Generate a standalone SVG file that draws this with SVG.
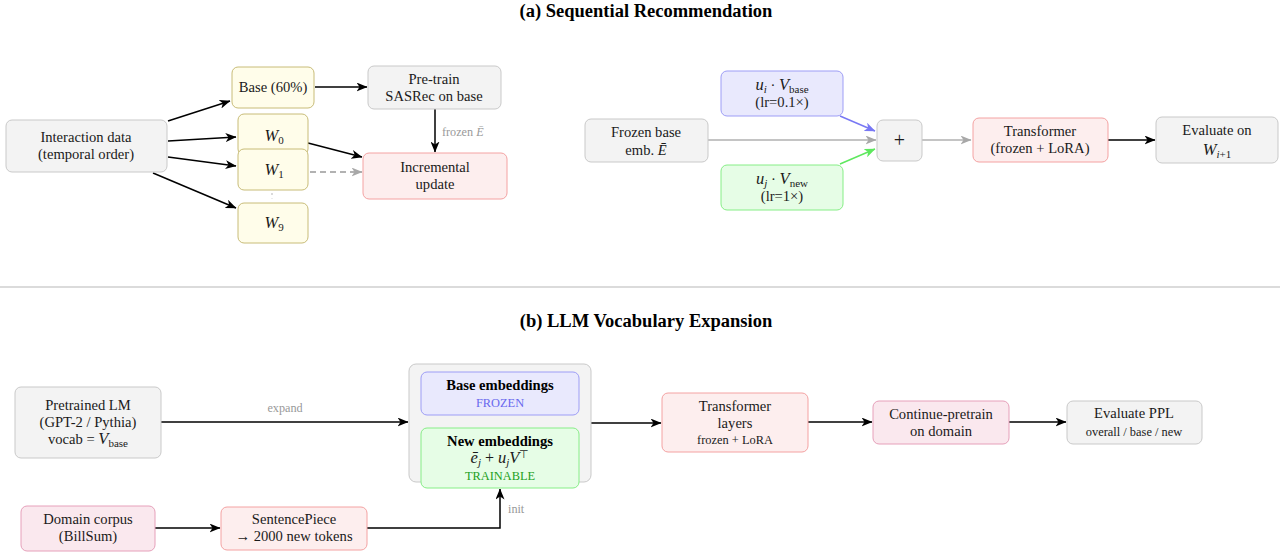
<svg xmlns="http://www.w3.org/2000/svg" width="1280" height="552" viewBox="0 0 1280 552">
  <defs>
    <marker id="ah-black" viewBox="0 0 11 9" refX="10.5" refY="4.5" markerWidth="11" markerHeight="9" markerUnits="userSpaceOnUse" orient="auto">
      <path d="M0,0 L11,4.5 L0,9 L3,4.5 z" fill="#000"/>
    </marker>
    <marker id="ah-gray" viewBox="0 0 11 9" refX="10.5" refY="4.5" markerWidth="11" markerHeight="9" markerUnits="userSpaceOnUse" orient="auto">
      <path d="M0,0 L11,4.5 L0,9 L3,4.5 z" fill="#a8a8a8"/>
    </marker>
    <marker id="ah-blue" viewBox="0 0 11 9" refX="10.5" refY="4.5" markerWidth="11" markerHeight="9" markerUnits="userSpaceOnUse" orient="auto">
      <path d="M0,0 L11,4.5 L0,9 L3,4.5 z" fill="#7878f4"/>
    </marker>
    <marker id="ah-green" viewBox="0 0 11 9" refX="10.5" refY="4.5" markerWidth="11" markerHeight="9" markerUnits="userSpaceOnUse" orient="auto">
      <path d="M0,0 L11,4.5 L0,9 L3,4.5 z" fill="#5ee85e"/>
    </marker>
  </defs>
  <style>
    text { font-family: "Liberation Serif", "Times New Roman", serif; font-size: 14.6px; fill: #1a1a1a; text-anchor: middle; }
    .title { font-size: 18.5px; font-weight: bold; fill: #000; }
    .small { font-size: 12.4px; }
    .lbl { font-size: 12.2px; fill: #999; text-anchor: start; }
    .lblc { font-size: 12.2px; fill: #999; }
    .b { font-weight: bold; fill: #000; }
    .m { font-style: italic; }
    .mi { font-style: italic; font-size: 16.5px; }
    .op { font-size: 16px; }
    .plus { font-size: 20px; }
    .sub { font-size: 11px; }
    .box { stroke-width: 1; }
    .gray { fill: #f3f3f3; stroke: #c9c9c9; }
    .yel { fill: #fffdea; stroke: #c8bc78; }
    .red { fill: #fdeeee; stroke: #f4a2a2; }
    .pink { fill: #fae8ee; stroke: #e6a0ba; }
    .blue { fill: #e9e9fd; stroke: #9d9df6; }
    .green { fill: #e6fde6; stroke: #86ee86; }
    .edge { fill: none; stroke: #000; stroke-width: 1.5; }
    .edge-gray { fill: none; stroke: #b0b0b0; stroke-width: 1.5; }
  </style>

  <rect width="1280" height="552" fill="#fff"/>

  <!-- headings and divider -->
  <text class="title" x="646" y="17">(a) Sequential Recommendation</text>
  <line x1="0" y1="287" x2="1280" y2="287" stroke="#cfcfcf" stroke-width="1.6"/>
  <text class="title" x="646" y="327">(b) LLM Vocabulary Expansion</text>

  <!-- connectors -->
  <g id="connectors">
    <!-- (a) data split and pre-training -->
    <line class="edge" x1="168" y1="121" x2="230" y2="101" marker-end="url(#ah-black)"/>
    <line class="edge" x1="168" y1="141" x2="236" y2="137" marker-end="url(#ah-black)"/>
    <line class="edge" x1="168" y1="157" x2="236" y2="166" marker-end="url(#ah-black)"/>
    <line class="edge" x1="153" y1="173" x2="236" y2="208" marker-end="url(#ah-black)"/>
    <line class="edge" x1="315" y1="87" x2="367" y2="87" marker-end="url(#ah-black)"/>
    <line class="edge" x1="435" y1="109" x2="435" y2="152" marker-end="url(#ah-black)"/>
    <line class="edge" x1="308" y1="143" x2="362" y2="157" marker-end="url(#ah-black)"/>
    <line fill="none" stroke="#999" stroke-width="1.5" stroke-dasharray="6,4" x1="310" y1="172" x2="362" y2="172" marker-end="url(#ah-gray)"/>
    <!-- (a) embedding composition -->
    <line class="edge-gray" x1="708" y1="140" x2="876" y2="140" marker-end="url(#ah-gray)"/>
    <line fill="none" stroke="#7878f4" stroke-width="1.5" x1="840" y1="116" x2="875" y2="131" marker-end="url(#ah-blue)"/>
    <line fill="none" stroke="#5ee85e" stroke-width="1.5" x1="840" y1="164" x2="875" y2="149" marker-end="url(#ah-green)"/>
    <line class="edge-gray" x1="922" y1="140" x2="971" y2="140" marker-end="url(#ah-gray)"/>
    <line class="edge" x1="1108" y1="140" x2="1155" y2="140" marker-end="url(#ah-black)"/>
    <!-- (b) pipeline -->
    <line class="edge" x1="161" y1="422" x2="408" y2="422" marker-end="url(#ah-black)"/>
    <line class="edge" x1="155" y1="528" x2="220" y2="528" marker-end="url(#ah-black)"/>
    <polyline class="edge" points="367,528 500,528 500,489" marker-end="url(#ah-black)"/>
    <line class="edge" x1="591" y1="423" x2="661" y2="423" marker-end="url(#ah-black)"/>
    <line class="edge" x1="808" y1="422" x2="872" y2="422" marker-end="url(#ah-black)"/>
    <line class="edge" x1="1009" y1="422" x2="1066" y2="422" marker-end="url(#ah-black)"/>
    <!-- edge labels -->
    <text class="lbl" x="442" y="136">frozen <tspan class="m">Ē</tspan></text>
    <text class="lblc" x="285" y="412">expand</text>
    <text class="lbl" x="508" y="513">init</text>
  </g>

  <!-- (a) nodes -->
  <g id="interaction">
    <rect class="box gray" x="6" y="120" width="161" height="52" rx="6"/>
    <text x="86" y="142">Interaction data</text>
    <text x="86" y="159">(temporal order)</text>
  </g>
  <g id="base-split">
    <rect class="box yel" x="232" y="67" width="82" height="41" rx="6"/>
    <text x="273" y="92">Base (60%)</text>
  </g>
  <g id="w0">
    <rect class="box yel" x="238" y="114" width="70" height="41" rx="6"/>
    <text x="274" y="141"><tspan class="mi">W</tspan><tspan class="sub" dy="3">0</tspan></text>
  </g>
  <g id="w1">
    <rect class="box yel" x="238" y="149" width="70" height="41" rx="6"/>
    <text x="274" y="175"><tspan class="mi">W</tspan><tspan class="sub" dy="3">1</tspan></text>
  </g>
  <g id="ellipsis">
    <circle cx="272" cy="194" r="0.7" fill="#999"/>
    <circle cx="272" cy="198.5" r="0.5" fill="#ccc"/>
  </g>
  <g id="w9">
    <rect class="box yel" x="238" y="203" width="70" height="40" rx="6"/>
    <text x="274" y="228"><tspan class="mi">W</tspan><tspan class="sub" dy="3">9</tspan></text>
  </g>
  <g id="pretrain">
    <rect class="box gray" x="368" y="66" width="133" height="43" rx="6"/>
    <text x="434" y="84">Pre-train</text>
    <text x="434" y="101">SASRec on base</text>
  </g>
  <g id="incremental">
    <rect class="box red" x="363" y="153" width="144" height="46" rx="6"/>
    <text x="435" y="172">Incremental</text>
    <text x="435" y="189">update</text>
  </g>

  <g id="frozen-base">
    <rect class="box gray" x="585" y="119" width="123" height="43" rx="6"/>
    <text x="646" y="137">Frozen base</text>
    <text x="646" y="155">emb. <tspan class="m">Ē</tspan></text>
  </g>
  <g id="ui-vbase">
    <rect class="box blue" x="721" y="71" width="122" height="45" rx="6"/>
    <text x="782" y="90"><tspan class="mi">u</tspan><tspan class="m sub" dy="3">i</tspan><tspan dy="-3"> · </tspan><tspan class="mi">V</tspan><tspan class="sub" dy="3">base</tspan></text>
    <text x="782" y="107">(lr=0.1×)</text>
  </g>
  <g id="uj-vnew">
    <rect class="box green" x="721" y="165" width="122" height="45" rx="6"/>
    <text x="782" y="184"><tspan class="mi">u</tspan><tspan class="m sub" dy="3">j</tspan><tspan dy="-3"> · </tspan><tspan class="mi">V</tspan><tspan class="sub" dy="3">new</tspan></text>
    <text x="782" y="201">(lr=1×)</text>
  </g>
  <g id="sum">
    <rect class="box gray" x="877" y="120" width="45" height="41" rx="6"/>
    <text class="plus" x="899.5" y="147">+</text>
  </g>
  <g id="transformer-a">
    <rect class="box red" x="973" y="118" width="135" height="44" rx="6"/>
    <text x="1040" y="136">Transformer</text>
    <text x="1040" y="153">(frozen + LoRA)</text>
  </g>
  <g id="evaluate-a">
    <rect class="box gray" x="1156" y="117" width="122" height="46" rx="6"/>
    <text x="1217" y="135">Evaluate on</text>
    <text x="1217" y="155"><tspan class="mi">W</tspan><tspan class="m sub" dy="3">i</tspan><tspan class="sub">+1</tspan></text>
  </g>

  <!-- (b) nodes -->
  <g id="pretrained-lm">
    <rect class="box gray" x="15" y="387" width="146" height="71" rx="6"/>
    <text x="88" y="410">Pretrained LM</text>
    <text x="88" y="427">(GPT-2 / Pythia)</text>
    <text x="88" y="444">vocab = <tspan class="mi">V</tspan><tspan class="sub" dy="3">base</tspan></text>
  </g>
  <g id="embeddings">
    <rect class="box gray" x="409" y="364" width="182" height="118" rx="7"/>
    <g id="base-emb">
      <rect class="box blue" x="421" y="372" width="158" height="43" rx="6"/>
      <text class="b" x="500" y="390">Base embeddings</text>
      <text class="small" x="500" y="407" style="fill:#6868ee">FROZEN</text>
    </g>
    <g id="new-emb">
      <rect class="box green" x="421" y="428" width="158" height="60" rx="6" stroke-width="1.6"/>
      <text class="b" x="500" y="446">New embeddings</text>
      <text x="500" y="463"><tspan class="mi">ē</tspan><tspan class="m sub" dy="3">j</tspan><tspan class="op" dy="-3"> + </tspan><tspan class="mi">u</tspan><tspan class="m sub" dy="3">j</tspan><tspan class="mi" dy="-3">V</tspan><tspan class="sub" dy="-5">⊤</tspan></text>
      <text class="small" x="500" y="480" style="fill:#22a022">TRAINABLE</text>
    </g>
  </g>
  <g id="domain-corpus">
    <rect class="box pink" x="21" y="506" width="134" height="45" rx="6"/>
    <text x="88" y="524">Domain corpus</text>
    <text x="88" y="541">(BillSum)</text>
  </g>
  <g id="sentencepiece">
    <rect class="box red" x="221" y="507" width="146" height="43" rx="6"/>
    <text x="294" y="524">SentencePiece</text>
    <text x="294" y="541">→ 2000 new tokens</text>
  </g>
  <g id="transformer-b">
    <rect class="box red" x="662" y="393" width="146" height="59" rx="6"/>
    <text x="735" y="411">Transformer</text>
    <text x="735" y="428">layers</text>
    <text class="small" x="735" y="444">frozen + LoRA</text>
  </g>
  <g id="continue-pretrain">
    <rect class="box pink" x="873" y="401" width="136" height="43" rx="6"/>
    <text x="941" y="419">Continue-pretrain</text>
    <text x="941" y="436">on domain</text>
  </g>
  <g id="evaluate-ppl">
    <rect class="box gray" x="1067" y="401" width="135" height="43" rx="6"/>
    <text x="1134" y="418">Evaluate PPL</text>
    <text class="small" x="1134" y="436">overall / base / new</text>
  </g>
</svg>
